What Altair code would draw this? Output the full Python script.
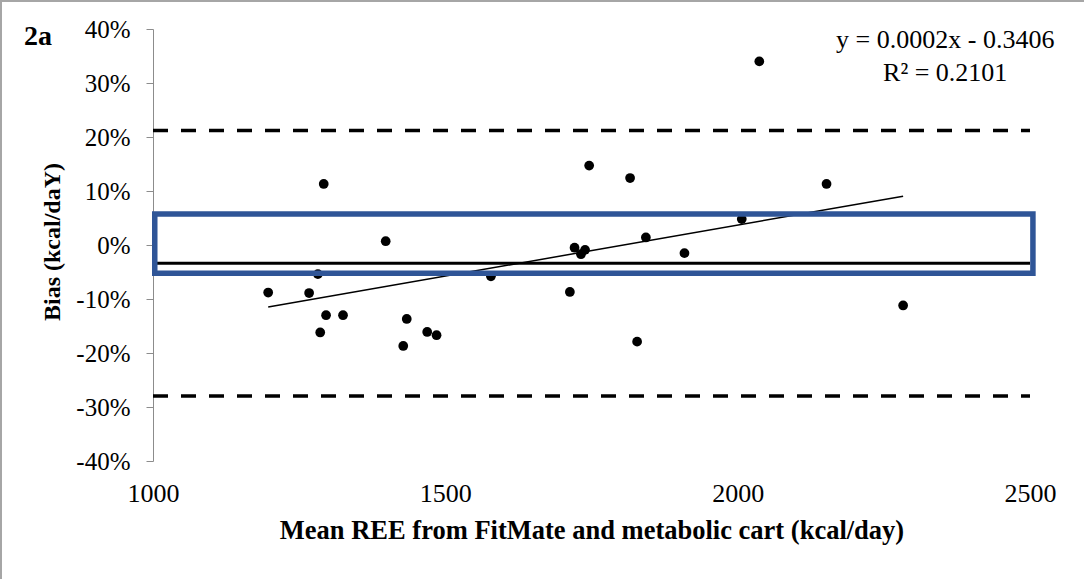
import altair as alt
import pandas as pd

# Mean REE of the two devices (kcal/day) and relative bias of each subject
mean_ree = [1197, 1267, 1282, 1292, 1286, 1296, 1325, 1398, 1428, 1434, 1469, 1485, 1578,
            1713, 1721, 1732, 1739, 1746, 1816, 1828, 1843, 1909, 2007, 2037, 2152, 2283]
bias = [-0.088, -0.089, -0.054, 0.113, -0.162, -0.130, -0.130, 0.007, -0.187, -0.137, -0.161,
        -0.167, -0.058, -0.087, -0.005, -0.017, -0.009, 0.147, 0.124, -0.179, 0.014, -0.015,
        0.048, 0.340, 0.113, -0.112]

# Highlighted band drawn around the mean bias
box_x = [1003, 2505]
box_y = [0.0575, -0.0525]

# Trendline equation shown in the corner
eq_text = ["y = 0.0002x - 0.3406", "R\u00b2 = 0.2101"]
eq_x = [2355, 2355]
eq_y = [0.380, 0.318]

y_ticks = [-0.4, -0.3, -0.2, -0.1, 0.0, 0.1, 0.2, 0.3, 0.4]
x_ticks = [1000, 1500, 2000, 2500]

SERIF = "Liberation Serif"
W, H = 877, 432

df = pd.DataFrame({"mean_ree": mean_ree, "bias": bias})
box = pd.DataFrame({"x1": [box_x[0]], "x2": [box_x[1]], "y1": [box_y[0]], "y2": [box_y[1]]})
eq = pd.DataFrame({"x": eq_x, "y": eq_y, "label": eq_text})

xscale = alt.Scale(domain=[1000, 2500], nice=False, zero=False)
yscale = alt.Scale(domain=[-0.4, 0.4], nice=False, zero=False)

x_axis = alt.Axis(
    values=x_ticks, format="d", domain=False, ticks=False, grid=False, labelFlush=False,
    labelOverlap=False, labelFont=SERIF, labelFontSize=26, labelColor="black", labelPadding=19,
    title="Mean REE from FitMate and metabolic cart (kcal/day)",
    titleFont=SERIF, titleFontSize=26.5, titleFontWeight="bold", titleColor="black",
    titleX=W / 2, titleY=69, titleAlign="center", titleBaseline="middle",
)
y_axis = alt.Axis(
    values=y_ticks, grid=False, domainColor="#8c8c8c", tickColor="#8c8c8c", tickSize=7,
    labelExpr="(datum.value < -0.001 ? '-' : '') + abs(round(datum.value * 100)) + '%'",
    labelFont=SERIF, labelFontSize=25, labelColor="black", labelPadding=16,
    title="Bias (kcal/daY)", titleFont=SERIF, titleFontSize=24, titleFontWeight="bold",
    titleColor="black", titleAngle=270, titleX=-101, titleY=212.5,
    titleAlign="center", titleBaseline="middle",
)


def xenc(field):
    return alt.X(field, scale=xscale, axis=x_axis)


def yenc(field):
    return alt.Y(field, scale=yscale, axis=y_axis)


base = alt.Chart(df)

points = base.mark_circle(size=95, color="black", opacity=1).encode(
    x=xenc("mean_ree:Q"), y=yenc("bias:Q")
)

trend = base.transform_regression("mean_ree", "bias", method="linear").mark_line(
    color="black", strokeWidth=1.5
).encode(x=xenc("mean_ree:Q"), y=yenc("bias:Q"))

# Mean bias and 95% limits of agreement (mean +/- 1.96 SD)
limits = base.transform_aggregate(m="mean(bias)", s="stdev(bias)").transform_calculate(
    upper="datum.m + 1.96 * datum.s", lower="datum.m - 1.96 * datum.s"
)
mean_rule = limits.mark_rule(color="black", strokeWidth=3).encode(y=yenc("m:Q"))
upper_rule = limits.mark_rule(color="black", strokeWidth=3.5, strokeDash=[15, 13],
                              strokeDashOffset=6).encode(y=yenc("upper:Q"))
lower_rule = limits.mark_rule(color="black", strokeWidth=3.5, strokeDash=[15, 13],
                              strokeDashOffset=6).encode(y=yenc("lower:Q"))

band = alt.Chart(box).mark_rect(fillOpacity=0, stroke="#2F5597", strokeWidth=5.5).encode(
    x=xenc("x1:Q"), x2="x2:Q", y=yenc("y1:Q"), y2="y2:Q"
)

equation = alt.Chart(eq).mark_text(
    font=SERIF, fontSize=26, color="black", align="center", baseline="middle"
).encode(x=xenc("x:Q"), y=yenc("y:Q"), text="label:N")

panel_label = alt.Chart(pd.DataFrame({"t": ["2a"]})).mark_text(
    font=SERIF, fontSize=28, fontWeight="bold", color="black", align="center", baseline="middle"
).encode(x=alt.value(-115), y=alt.value(8), text="t:N")

frame = alt.Chart(pd.DataFrame({"t": [0]})).mark_rect(
    fillOpacity=0, stroke="#a6a6a6", strokeWidth=2
).encode(x=alt.value(-152), x2=alt.value(W + 80), y=alt.value(-28), y2=alt.value(H + 119))

chart = alt.layer(
    frame, points, trend, mean_rule, upper_rule, lower_rule, band, equation, panel_label
).properties(
    width=W, height=H, autosize="none", background="white",
    padding={"left": 153, "top": 29, "right": 1084 - 153 - W, "bottom": 579 - 29 - H},
).configure_view(strokeWidth=0)

chart.save("out.html", embed_options={"renderer": "svg", "actions": False})
